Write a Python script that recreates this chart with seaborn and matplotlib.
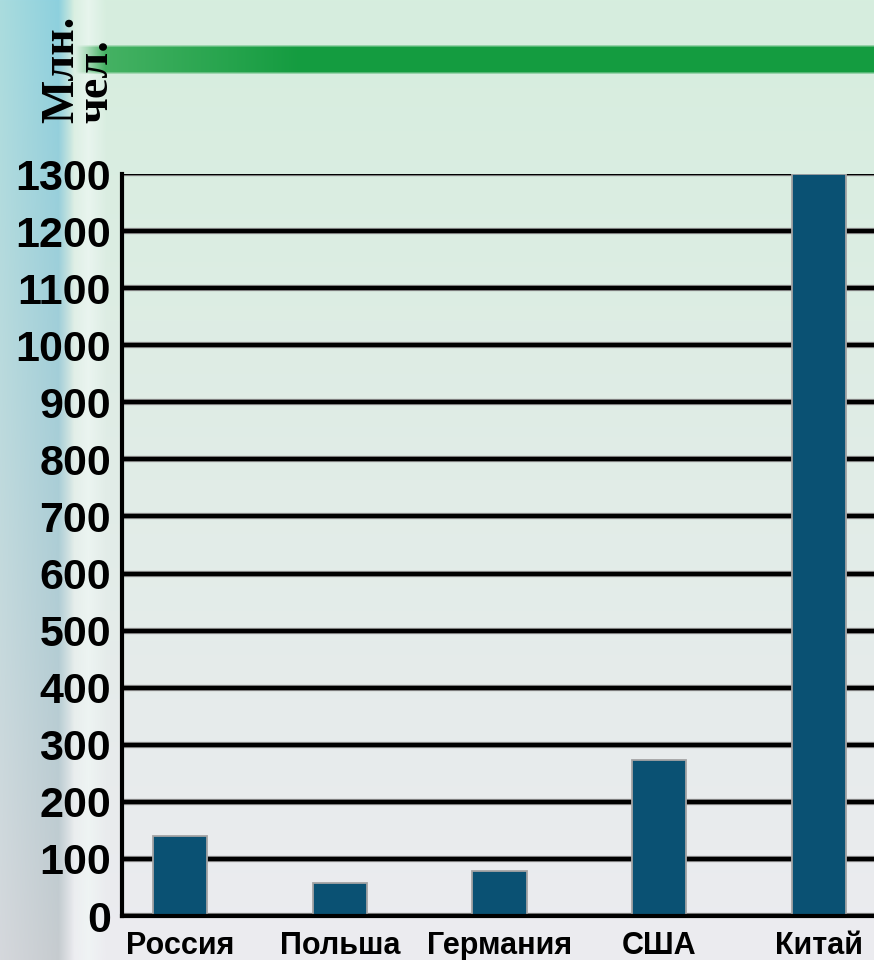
import numpy as np
import pandas as pd
import matplotlib
matplotlib.use("Agg")
import matplotlib.pyplot as plt
import matplotlib.patheffects as pe
import seaborn as sns

# данные (млн. чел.)
countries = ["Россия", "Польша", "Германия", "США", "Китай"]
population = [140, 58, 79, 273, 1300]
yticks = list(range(0, 1400, 100))

df = pd.DataFrame({"country": countries, "pop": population})

sns.set_style("white")
plt.rcParams['font.family'] = ['Liberation Sans', 'DejaVu Sans']

W, H = 874, 960
fig = plt.figure(figsize=(W / 100, H / 100), dpi=100)

# фон слайда
yy, xx = np.mgrid[0:H, 0:W]
t = (yy / H)[..., None]
top = np.array([214, 238, 222]) / 255
bot = np.array([236, 235, 240]) / 255
img = top * (1 - t) + bot * t
# левая полоса
strip_top = np.array([140, 208, 222]) / 255
strip_bot = np.array([198, 203, 207]) / 255
strip = strip_top * (1 - t) + strip_bot * t
s_alpha = np.clip((74 - xx) / 16, 0, 1)[..., None] * np.clip(0.6 + xx / 150, 0, 1)[..., None]
img = img * (1 - s_alpha) + strip * s_alpha
light = np.clip(1 - np.abs(xx - 88) / 18, 0, 1)[..., None] * 0.6
img = img * (1 - light) + np.array([0.95, 0.98, 0.97]) * light
# зелёная полоса
band = np.array([20, 156, 64]) / 255
band_l = np.array([70, 178, 100]) / 255
bx = np.clip((xx - 100) / 200, 0, 1)[..., None]
band_col = band_l * (1 - bx) + band * bx
b_alpha = (np.clip((yy - 44) / 3, 0, 1) * np.clip((74 - yy) / 3, 0, 1))
b_alpha = (b_alpha * np.clip((xx - 75) / 30, 0, 1))[..., None]
img = img * (1 - b_alpha) + band_col * b_alpha
img = np.clip(img, 0, 1)

ax_bg = fig.add_axes([0, 0, 1, 1], zorder=-1)
ax_bg.imshow(img, aspect="auto", interpolation="bilinear")
ax_bg.axis("off")

ax = fig.add_axes([122 / W, (H - 916) / H, 1 - 122 / W, (916 - 174) / H])
ax.patch.set_alpha(0)

sns.barplot(data=df, x="country", y="pop", color="#0a5173", width=0.34,
            edgecolor="#a4a4a4", linewidth=1.3, saturation=1, ax=ax)

ax.set_ylim(0, 1300)
ax.set_xlim(-0.363, 4.344)
ax.set_yticks(yticks)
ax.set_yticklabels([str(v) for v in yticks])
ax.set_xlabel("")
ax.set_ylabel("")

ax.set_axisbelow(True)
ax.yaxis.grid(True, color="black", linewidth=3)
for v, gl in zip(yticks, ax.get_ygridlines()):
    if v == 1300:
        gl.set_linewidth(1.6)
    gl.set_path_effects([pe.Stroke(linewidth=gl.get_linewidth() + 1.5, foreground="#8a8a8a"),
                         pe.Normal()])

for side in ["top", "right"]:
    ax.spines[side].set_visible(False)
for side in ["left", "bottom"]:
    ax.spines[side].set_color("black")
    ax.spines[side].set_linewidth(3)

ax.tick_params(axis="y", length=0, pad=8, labelsize=31, labelcolor="black")
ax.tick_params(axis="x", length=0, pad=11, labelsize=22, labelcolor="black")
for lab in ax.get_yticklabels() + ax.get_xticklabels():
    lab.set_fontweight("bold")

fig.text(41 / W, (H - 123) / H, "Млн.\nчел.", rotation=90, ha="left", va="bottom",
         multialignment="left", fontsize=33, fontweight="bold", linespacing=0.75,
         color="black", family=["Liberation Serif", "DejaVu Serif"])

fig.savefig("out.png", dpi=100)
